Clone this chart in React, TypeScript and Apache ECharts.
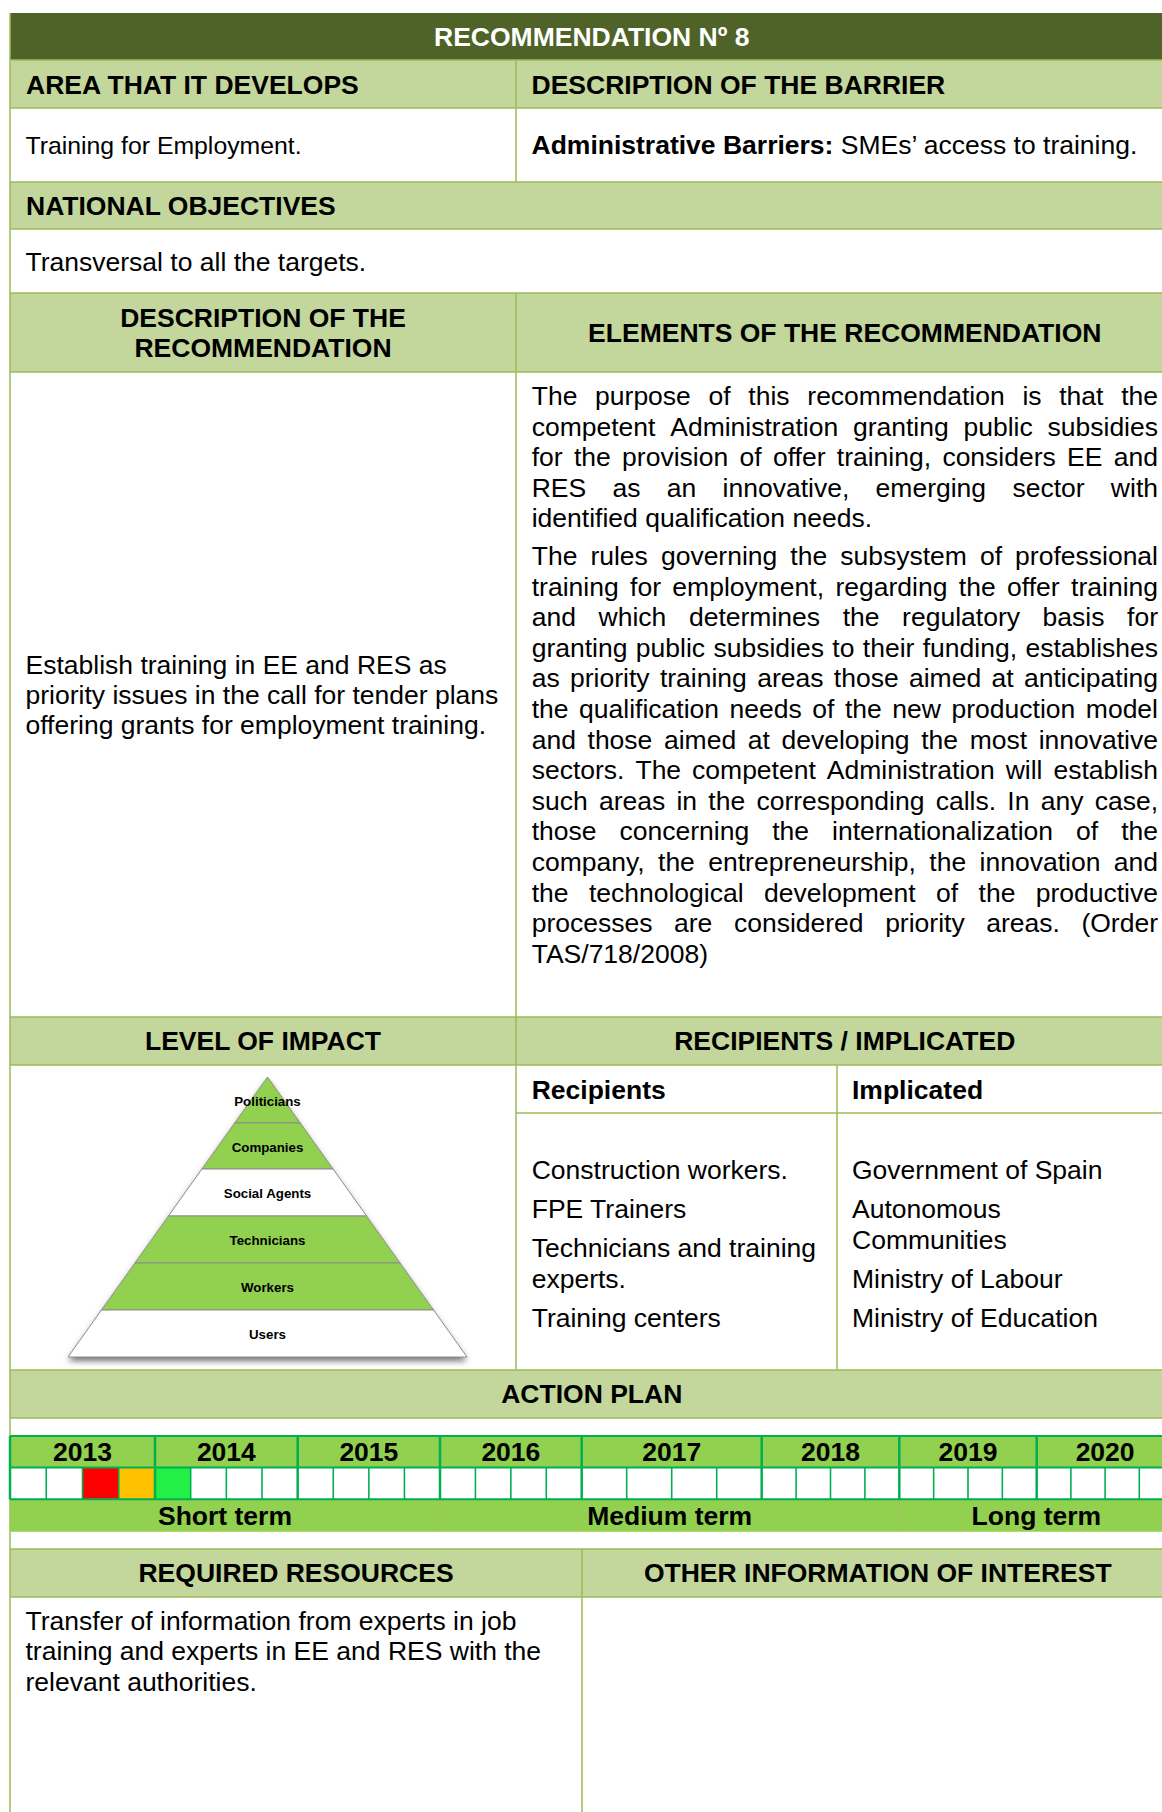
import React, { useEffect, useRef } from 'react';
import * as echarts from 'echarts';

// ---------- content ----------
const titleText = 'RECOMMENDATION Nº 8';
const rowHeaders1 = ['AREA THAT IT DEVELOPS', 'DESCRIPTION OF THE BARRIER'];
const areaText = 'Training for Employment.';
const barrierBold = 'Administrative Barriers:';
const barrierRest = 'SMEs’ access to training.';
const nationalHeader = 'NATIONAL OBJECTIVES';
const nationalText = 'Transversal to all the targets.';
const descHeaderLines = ['DESCRIPTION OF THE', 'RECOMMENDATION'];
const elementsHeader = 'ELEMENTS OF THE RECOMMENDATION';
const descLines = [
  'Establish training in EE and RES as',
  'priority issues in the call for tender plans',
  'offering grants for employment training.',
];
const elementsPara1 = [
  'The purpose of this recommendation is that the',
  'competent Administration granting public subsidies',
  'for the provision of offer training, considers EE and',
  'RES as an innovative, emerging sector with',
  'identified qualification needs.',
];
const elementsPara2 = [
  'The rules governing the subsystem of professional',
  'training for employment, regarding the offer training',
  'and which determines the regulatory basis for',
  'granting public subsidies to their funding, establishes',
  'as priority training areas those aimed at anticipating',
  'the qualification needs of the new production model',
  'and those aimed at developing the most innovative',
  'sectors. The competent Administration will establish',
  'such areas in the corresponding calls. In any case,',
  'those concerning the internationalization of the',
  'company, the entrepreneurship, the innovation and',
  'the technological development of the productive',
  'processes are considered priority areas. (Order',
  'TAS/718/2008)',
];
const levelHeader = 'LEVEL OF IMPACT';
const recipientsHeader = 'RECIPIENTS / IMPLICATED';
const recipientsSub = ['Recipients', 'Implicated'];
const pyramidLevels = ['Politicians', 'Companies', 'Social Agents', 'Technicians', 'Workers', 'Users'];
const pyramidFilled = [true, true, false, true, true, false];
const recipients = [['Construction workers.'], ['FPE Trainers'], ['Technicians and training', 'experts.'], ['Training centers']];
const implicated = [['Government of Spain'], ['Autonomous', 'Communities'], ['Ministry of Labour'], ['Ministry of Education']];
const actionHeader = 'ACTION PLAN';
const years = ['2013', '2014', '2015', '2016', '2017', '2018', '2019', '2020'];
const quartersPerYear = 4;
// highlighted quarter cells: [yearIndex, quarterIndex, colour]
const highlighted: [number, number, string][] = [
  [0, 2, '#FF0000'],
  [0, 3, '#FFC000'],
  [1, 0, '#22F046'],
];
const terms: { label: string; from: number; to: number }[] = [
  { label: 'Short term', from: 0, to: 3 },
  { label: 'Medium term', from: 3, to: 6 },
  { label: 'Long term', from: 6, to: 8 },
];
const bottomHeaders = ['REQUIRED RESOURCES', 'OTHER INFORMATION OF INTEREST'];
const resourcesLines = [
  'Transfer of information from experts in job',
  'training and experts in EE and RES with the',
  'relevant authorities.',
];

// ---------- layout / style ----------
const FONT = "'Liberation Sans', Arial, Helvetica, sans-serif";
const FS = 26.5;
const BLACK = '#000000';
const BORDER = '#9BBB59';
const HEADER_FILL = '#C3D69B';
const TITLE_FILL = '#4F6228';
const TL_FILL = '#92D050';
const TL_LINE = '#00B050';
const L = 10;
const R = 1173.5;
const COL = 516;
const yearEdges = [10, 155, 297.7, 440, 581.7, 761.7, 899.3, 1036.7, 1173.5];
const pyramidY = [1077, 1123, 1169, 1216, 1263, 1310, 1357];

let measureCtx: CanvasRenderingContext2D | null = null;
function measure(s: string, size: number, bold = false) {
  if (!measureCtx) measureCtx = document.createElement('canvas').getContext('2d');
  measureCtx!.font = `${bold ? 'bold ' : ''}${size}px ${FONT}`;
  return measureCtx!.measureText(s).width;
}

function buildElements() {
  const els: any[] = [];
  const rect = (x: number, y: number, w: number, h: number, fill: string) =>
    els.push({ type: 'rect', silent: true, shape: { x, y, width: w, height: h }, style: { fill } });
  const line = (x1: number, y1: number, x2: number, y2: number, stroke: string, lw: number) =>
    els.push({ type: 'line', silent: true, shape: { x1, y1, x2, y2 }, style: { stroke, lineWidth: lw } });
  const text = (s: string, x: number, y: number, o: { size?: number; bold?: boolean; align?: string; fill?: string } = {}) =>
    els.push({
      type: 'text',
      silent: true,
      x,
      y,
      style: {
        text: s,
        fontSize: o.size ?? FS,
        fontFamily: FONT,
        fontWeight: o.bold ? 'bold' : 'normal',
        fill: o.fill ?? BLACK,
        textAlign: o.align ?? 'left',
        textVerticalAlign: 'middle',
        align: o.align ?? 'left',
        verticalAlign: 'middle',
      },
    });
  const justified = (lines: string[], x0: number, x1: number, y0: number, lh: number) => {
    lines.forEach((ln, i) => {
      const y = y0 + i * lh;
      const words = ln.split(' ');
      if (i === lines.length - 1 || words.length < 2) {
        text(ln, x0, y);
        return;
      }
      const ws = words.map((w) => measure(w, FS));
      const gap = (x1 - x0 - ws.reduce((a, b) => a + b, 0)) / (words.length - 1);
      let x = x0;
      words.forEach((w, j) => {
        text(w, x, y);
        x += ws[j] + gap;
      });
    });
  };

  // ---- backgrounds ----
  rect(L, 13, R - L, 47, TITLE_FILL);
  rect(L, 60, R - L, 48, HEADER_FILL);
  rect(L, 182, R - L, 47, HEADER_FILL);
  rect(L, 293, R - L, 79, HEADER_FILL);
  rect(L, 1017, R - L, 48, HEADER_FILL);
  rect(L, 1370, R - L, 48, HEADER_FILL);
  rect(L, 1549, R - L, 48, HEADER_FILL);

  // ---- table borders ----
  [60, 108, 182, 229, 293, 372, 1017, 1065, 1370, 1418, 1549, 1597].forEach((y) => line(L, y, R, y, BORDER, 1.5));
  line(L, 13, L, 1812, BORDER, 1.5);
  line(COL, 60, COL, 182, BORDER, 1.5);
  line(COL, 293, COL, 1370, BORDER, 1.5);
  line(COL, 1113, R, 1113, BORDER, 1.5);
  line(837, 1065, 837, 1370, BORDER, 1.5);
  line(582, 1549, 582, 1812, BORDER, 1.5);

  // ---- texts: top part ----
  text(titleText, (L + R) / 2, 36.5, { bold: true, align: 'center', fill: '#FFFFFF' });
  text(rowHeaders1[0], 26, 84.5, { bold: true });
  text(rowHeaders1[1], 531.5, 84.5, { bold: true });
  text(areaText, 25.5, 145, { size: 24.8 });
  text(barrierBold, 531.5, 145, { bold: true });
  text(barrierRest, 531.5 + measure(barrierBold, FS, true) + measure(' ', FS), 145);
  text(nationalHeader, 26, 206, { bold: true });
  text(nationalText, 25.5, 261.5);
  text(descHeaderLines[0], (L + COL) / 2, 317.5, { bold: true, align: 'center' });
  text(descHeaderLines[1], (L + COL) / 2, 347.5, { bold: true, align: 'center' });
  text(elementsHeader, (COL + R) / 2, 332.5, { bold: true, align: 'center' });

  descLines.forEach((ln, i) => text(ln, 25.5, 665 + i * 30.2));
  justified(elementsPara1, 531.7, 1158, 396, 30.6);
  justified(elementsPara2, 531.7, 1158, 556, 30.6);

  // ---- impact / recipients ----
  text(levelHeader, (L + COL) / 2, 1041, { bold: true, align: 'center' });
  text(recipientsHeader, (COL + R) / 2, 1041, { bold: true, align: 'center' });
  text(recipientsSub[0], 531.7, 1090, { bold: true });
  text(recipientsSub[1], 852, 1090, { bold: true });
  const listLines = (items: string[][], x: number) => {
    let y = 1170;
    items.forEach((item) => {
      item.forEach((ln) => {
        text(ln, x, y);
        y += 30.5;
      });
      y += 8.5;
    });
  };
  listLines(recipients, 531.7);
  listLines(implicated, 852);

  // pyramid
  const apexX = 267.5;
  const apexY = pyramidY[0];
  const baseY = pyramidY[pyramidY.length - 1];
  const halfBase = 199.5;
  const hw = (y: number) => (halfBase * (y - apexY)) / (baseY - apexY);
  els.push({
    type: 'polygon',
    silent: true,
    shape: { points: [[apexX, apexY], [apexX + halfBase, baseY], [apexX - halfBase, baseY]] },
    style: { fill: '#FFFFFF', shadowBlur: 6, shadowOffsetY: 4, shadowColor: 'rgba(0,0,0,0.55)' },
  });
  pyramidLevels.forEach((name, i) => {
    const y0 = pyramidY[i];
    const y1 = pyramidY[i + 1];
    const pts =
      i === 0
        ? [[apexX, y0], [apexX + hw(y1), y1], [apexX - hw(y1), y1]]
        : [[apexX - hw(y0), y0], [apexX + hw(y0), y0], [apexX + hw(y1), y1], [apexX - hw(y1), y1]];
    els.push({
      type: 'polygon',
      silent: true,
      shape: { points: pts },
      style: { fill: pyramidFilled[i] ? TL_FILL : '#FFFFFF', stroke: '#8C8C8C', lineWidth: 1 },
    });
  });
  pyramidLevels.forEach((name, i) => {
    text(name, apexX, (pyramidY[i] + pyramidY[i + 1]) / 2 + 1, { size: 13.3, bold: true, align: 'center' });
  });

  // ---- action plan ----
  text(actionHeader, (L + R) / 2, 1394, { bold: true, align: 'center' });
  const yTop = 1436;
  const yMid = 1467.5;
  const yBot = 1499.3;
  const yTerm = 1531.7;
  rect(L, yTop, R - L, yMid - yTop, TL_FILL);
  rect(L, yMid, R - L, yBot - yMid, '#FFFFFF');
  rect(L, yBot, R - L, yTerm - yBot, TL_FILL);
  years.forEach((yr, i) => {
    const x0 = yearEdges[i];
    const x1 = yearEdges[i + 1];
    const qw = (x1 - x0) / quartersPerYear;
    highlighted
      .filter((h) => h[0] === i)
      .forEach((h) => rect(x0 + h[1] * qw, yMid, qw, yBot - yMid, h[2]));
    for (let q = 1; q < quartersPerYear; q++) line(x0 + q * qw, yMid, x0 + q * qw, yBot, TL_LINE, 1.6);
    text(yr, (x0 + x1) / 2, 1452, { bold: true, align: 'center' });
  });
  terms.forEach((t, i) => {
    const x0 = yearEdges[t.from];
    const x1 = yearEdges[t.to];
    if (i > 0) line(x0, yBot, x0, yTerm, '#9FC35F', 1);
    text(t.label, (x0 + x1) / 2, 1516, { bold: true, align: 'center' });
  });
  [yTop, yMid, yBot].forEach((y) => line(L, y, R, y, TL_LINE, 2));
  yearEdges.forEach((x) => line(x, yTop, x, yBot, TL_LINE, 2.5));

  // ---- bottom ----
  text(bottomHeaders[0], (L + 582) / 2, 1573, { bold: true, align: 'center' });
  text(bottomHeaders[1], (582 + R) / 2, 1573, { bold: true, align: 'center' });
  resourcesLines.forEach((ln, i) => text(ln, 25.5, 1620.5 + i * 30.5));

  return els;
}

export default function App() {
  const ref = useRef<HTMLDivElement>(null);
  useEffect(() => {
    document.body.style.margin = '0';
    document.body.style.overflow = 'hidden';
    if (!ref.current) return;
    const chart = echarts.init(ref.current, undefined, { renderer: 'svg' });
    chart.setOption({
      animation: false,
      backgroundColor: '#FFFFFF',
      graphic: { elements: buildElements() },
    });
    return () => chart.dispose();
  }, []);
  return <div ref={ref} style={{ width: 1162, height: 1812 }} />;
}
